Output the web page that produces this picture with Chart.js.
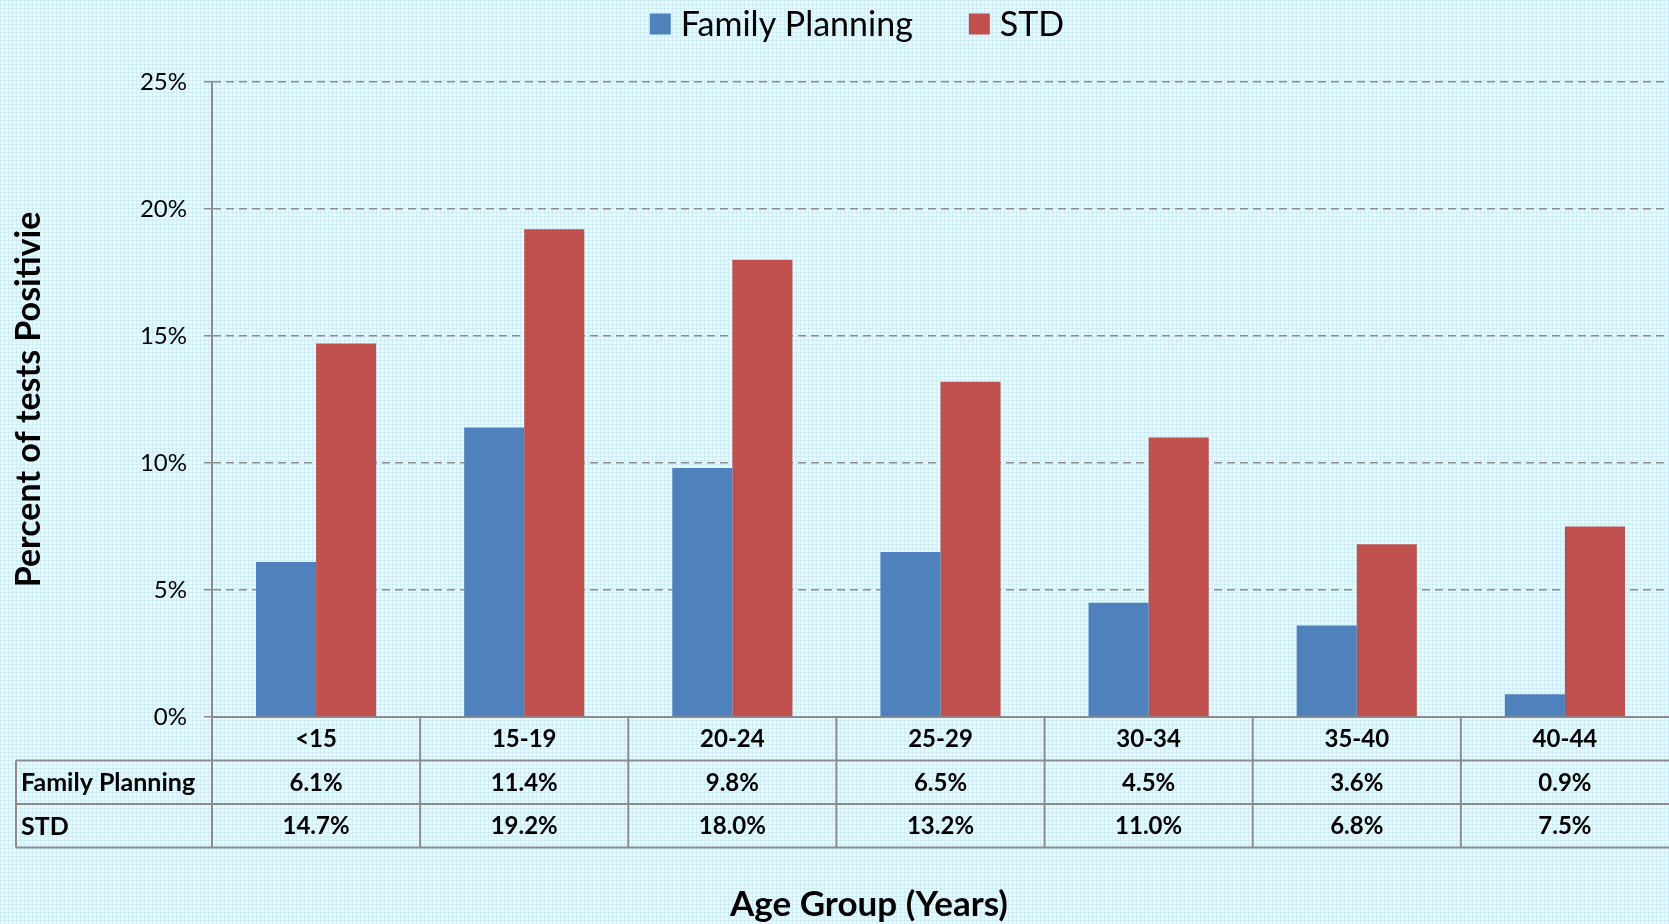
<!DOCTYPE html>
<html>
<head>
<meta charset="utf-8">
<script src="https://cdn.jsdelivr.net/npm/chart.js@4.4.1/dist/chart.umd.min.js"></script>
<style>
  html, body { margin: 0; padding: 0; }
  body {
    width: 1669px; height: 924px; overflow: hidden;
    background-color: #e8f8fb;
    background-image:
      linear-gradient(to right, rgba(150, 210, 228, 0.25) 1px, transparent 1px),
      linear-gradient(to bottom, rgba(150, 210, 228, 0.25) 1px, transparent 1px);
    background-size: 4px 4px;
  }
  #wrap { position: relative; width: 1669px; height: 924px; }
</style>
</head>
<body>
<div id="wrap"><canvas id="chart" width="1669" height="924"></canvas></div>
<script>
const categories = ['<15', '15-19', '20-24', '25-29', '30-34', '35-40', '40-44'];
const familyPlanning = [6.1, 11.4, 9.8, 6.5, 4.5, 3.6, 0.9];
const std = [14.7, 19.2, 18.0, 13.2, 11.0, 6.8, 7.5];
const seriesNames = ['Family Planning', 'STD'];
const seriesColors = ['#4f81bd', '#c0504d'];
const yMin = 0, yMax = 25, yStep = 5;
const xTitle = 'Age Group (Years)';
const yTitle = 'Percent of tests Positivie';

const FONT = 'Lato, "Noto Sans", sans-serif';
const LINE = '#8c8c8c';

// legend drawn by hand so the spacing matches
const legendPlugin = {
  id: 'topLegend',
  afterDraw(chart) {
    const ctx = chart.ctx;
    ctx.save();
    ctx.font = '34px ' + FONT;
    ctx.textBaseline = 'middle';
    const box = 21, gap = 10, itemGap = 56;
    const widths = chart.data.datasets.map(d => ctx.measureText(d.label).width);
    const total = widths.reduce((a, w) => a + box + gap + w, 0) + itemGap * (widths.length - 1);
    let x = 857 - total / 2;
    const cy = 24;
    chart.data.datasets.forEach((d, i) => {
      ctx.fillStyle = d.backgroundColor;
      ctx.fillRect(x, cy - box / 2, box, box);
      x += box + gap;
      ctx.fillStyle = '#000';
      ctx.fillText(d.label, x, cy + 1);
      x += widths[i] + itemGap;
    });
    ctx.restore();
  }
};

// data table under the x axis
const tablePlugin = {
  id: 'dataTable',
  afterDraw(chart) {
    const {ctx, chartArea, scales: {x}} = chart;
    const top = chartArea.bottom;
    const rowH = 43.5;
    const colW = (chartArea.right - chartArea.left) / categories.length;
    const left = 16;
    const rows = [[seriesNames[0], familyPlanning], [seriesNames[1], std]];

    ctx.save();
    ctx.strokeStyle = LINE;
    ctx.lineWidth = 2;
    ctx.beginPath();
    for (let r = 1; r <= 3; r++) {
      ctx.moveTo(left, top + rowH * r);
      ctx.lineTo(chartArea.right, top + rowH * r);
    }
    ctx.moveTo(left, top + rowH);
    ctx.lineTo(left, top + rowH * 3);
    for (let i = 0; i < categories.length; i++) {
      const bx = x.getPixelForValue(i) - colW / 2;
      ctx.moveTo(bx, top);
      ctx.lineTo(bx, top + rowH * 3);
    }
    ctx.stroke();

    ctx.fillStyle = '#000';
    ctx.font = 'bold 24px ' + FONT;
    ctx.textBaseline = 'middle';
    ctx.textAlign = 'center';
    categories.forEach((c, i) => ctx.fillText(c, x.getPixelForValue(i), top + rowH / 2 + 1));
    rows.forEach(([name, vals], r) => {
      const cy = top + rowH * (r + 1.5) + 1;
      ctx.font = 'bold 25px ' + FONT;
      ctx.textAlign = 'left';
      ctx.fillText(name, left + 5, cy);
      ctx.font = 'bold 24px ' + FONT;
      ctx.textAlign = 'center';
      vals.forEach((v, i) => ctx.fillText(v.toFixed(1) + '%', x.getPixelForValue(i), cy));
    });

    ctx.font = 'bold 35px ' + FONT;
    ctx.fillText(xTitle, 869, 905);
    ctx.restore();
  }
};

new Chart(document.getElementById('chart'), {
  type: 'bar',
  data: {
    labels: categories,
    datasets: [
      { label: seriesNames[0], data: familyPlanning, backgroundColor: seriesColors[0] },
      { label: seriesNames[1], data: std, backgroundColor: seriesColors[1] }
    ]
  },
  options: {
    responsive: false,
    animation: false,
    layout: { padding: { top: 82, bottom: 207, left: 0, right: 0 } },
    datasets: { bar: { categoryPercentage: 0.577, barPercentage: 1 } },
    plugins: { legend: { display: false }, tooltip: { enabled: false } },
    scales: {
      x: {
        ticks: { display: false },
        grid: { display: false },
        border: { display: true, color: LINE, width: 2 },
        afterFit(scale) { scale.height = 0; }
      },
      y: {
        min: yMin, max: yMax,
        ticks: {
          stepSize: yStep,
          padding: 17,
          color: '#000',
          font: { family: FONT, size: 24 },
          callback: v => v + '%'
        },
        grid: { color: LINE, lineWidth: 1.5, tickLength: 8 },
        border: { display: true, color: LINE, width: 2, dash: [8, 5] },
        title: {
          display: true, text: yTitle, color: '#000',
          font: { family: FONT, size: 34, weight: 'bold' },
          padding: { top: 9, bottom: 0 }
        },
        afterFit(scale) { scale.width = 212; }
      }
    }
  },
  plugins: [legendPlugin, tablePlugin]
});
</script>
</body>
</html>
